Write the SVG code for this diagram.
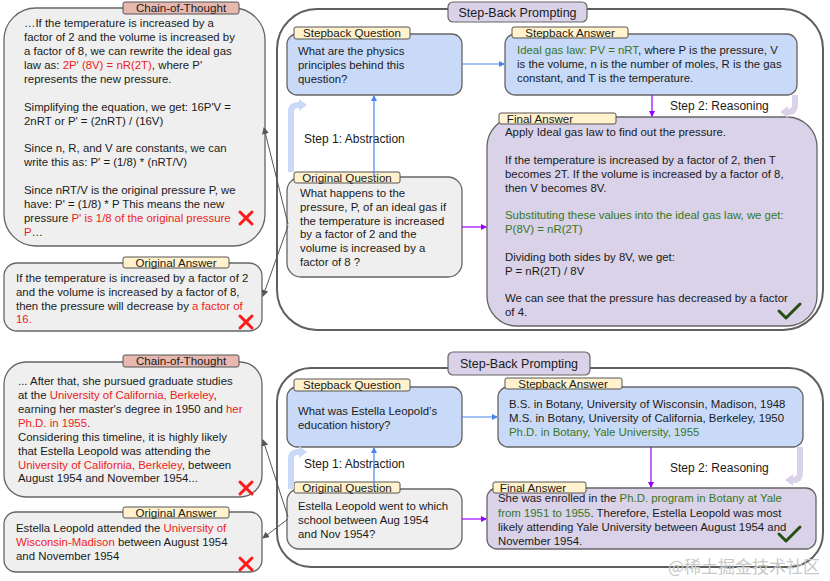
<svg xmlns="http://www.w3.org/2000/svg" width="830" height="581" viewBox="0 0 830 581">
<defs>
<style>
.t{font-family:"Liberation Sans",Arial,sans-serif;font-size:11.4px;fill:#1a1a1a}
.tag{font-family:"Liberation Sans",Arial,sans-serif;font-size:11.6px;fill:#1a1a1a;text-anchor:middle}
.lbl{font-family:"Liberation Sans",Arial,sans-serif;font-size:12px;fill:#1a1a1a}
.ttl{font-family:"Liberation Sans",Arial,sans-serif;font-size:12.5px;fill:#1a1a1a;text-anchor:middle}
.r{fill:#ee1c1c}
.g{fill:#38761d}
.gray{fill:#efefef;stroke:#666;stroke-width:1.3}
.blue{fill:#c9daf8;stroke:#666;stroke-width:1.3}
.lav{fill:#d9d2e9;stroke:#666;stroke-width:1.3}
.outer{fill:#fff;stroke:#5f5f5f;stroke-width:2}
.ytag{fill:#fff2cc;stroke:#555;stroke-width:1}
.ptag{fill:#e6b8af;stroke:#555;stroke-width:1}
.ttag{fill:#d9d2e9;stroke:#666;stroke-width:1.2}
.x{stroke:#ff1a1a;stroke-width:3;stroke-linecap:round}
.chk{fill:none;stroke:#274e13;stroke-width:3;stroke-linecap:round;stroke-linejoin:round}
.cb{stroke:#4a86e8;stroke-width:1.2;fill:none;marker-end:url(#mb)}
.cp{stroke:#9900ff;stroke-width:1.2;fill:none;marker-end:url(#mp)}
.cg{stroke:#555;stroke-width:1;fill:none;marker-end:url(#mg)}
.bendb{stroke:#c9daf8;stroke-width:6;fill:none}
.bendl{stroke:#d9d2e9;stroke-width:6;fill:none}
</style>
<marker id="mb" markerWidth="6" markerHeight="6" refX="5" refY="3" orient="auto" markerUnits="userSpaceOnUse"><path d="M0,0 L6,3 L0,6 z" fill="#4a86e8"/></marker>
<marker id="mp" markerWidth="6" markerHeight="6" refX="5" refY="3" orient="auto" markerUnits="userSpaceOnUse"><path d="M0,0 L6,3 L0,6 z" fill="#9900ff"/></marker>
<marker id="mg" markerWidth="7" markerHeight="7" refX="6" refY="3.5" orient="auto" markerUnits="userSpaceOnUse"><path d="M0,0 L7,3.5 L0,7 z" fill="#555"/></marker>
</defs>
<rect width="830" height="581" fill="#fff"/>

<!-- ===== TOP EXAMPLE ===== -->
<g id="top-stepback-frame">
<rect class="outer" x="277" y="9" width="546" height="321" rx="40"/>
<rect class="ttag" x="448" y="2" width="139" height="20" rx="5"/>
<text class="ttl" x="517.5" y="16.5">Step-Back Prompting</text>
</g>

<g id="top-cot">
<rect class="gray" x="4" y="8" width="261" height="238" rx="32"/>
<rect class="ptag" x="123" y="2" width="116" height="12" rx="2"/>
<text class="tag" x="181" y="12">Chain-of-Thought</text>
<text class="t" x="24" y="27">…If the temperature is increased by a</text>
<text class="t" x="24" y="41">factor of 2 and the volume is increased by</text>
<text class="t" x="24" y="55">a factor of 8, we can rewrite the ideal gas</text>
<text class="t" x="24" y="69">law as: <tspan class="r">2P' (8V) = nR(2T)</tspan>, where P'</text>
<text class="t" x="24" y="83">represents the new pressure.</text>
<text class="t" x="24" y="111">Simplifying the equation, we get: 16P'V =</text>
<text class="t" x="24" y="125">2nRT or P' = (2nRT) / (16V)</text>
<text class="t" x="24" y="152">Since n, R, and V are constants, we can</text>
<text class="t" x="24" y="166">write this as: P' = (1/8) * (nRT/V)</text>
<text class="t" x="24" y="194">Since nRT/V is the original pressure P, we</text>
<text class="t" x="24" y="208">have: P' = (1/8) * P This means the new</text>
<text class="t" x="24" y="222">pressure <tspan class="r">P' is 1/8 of the original pressure</tspan></text>
<text class="t" x="24" y="236"><tspan class="r">P</tspan>…</text>
<path class="x" d="M240,212 L252,224 M252,212 L240,224"/>
</g>

<g id="top-original-answer">
<rect class="gray" x="4" y="263" width="258" height="68" rx="13"/>
<rect class="ytag" x="123" y="257" width="106" height="11" rx="2"/>
<text class="tag" x="176" y="266.5">Original Answer</text>
<text class="t" x="16" y="282">If the temperature is increased by a factor of 2</text>
<text class="t" x="16" y="296">and the volume is increased by a factor of 8,</text>
<text class="t" x="16" y="310">then the pressure will decrease by <tspan class="r">a factor of</tspan></text>
<text class="t" x="16" y="323"><tspan class="r">16.</tspan></text>
<path class="x" d="M240,316 L252,328 M252,316 L240,328"/>
</g>

<g id="top-stepback-question">
<rect class="blue" x="287" y="34" width="175" height="61" rx="10"/>
<rect class="ytag" x="294" y="27" width="116" height="12" rx="2"/>
<text class="tag" x="352" y="37">Stepback Question</text>
<text class="t" x="298" y="55">What are the physics</text>
<text class="t" x="298" y="69">principles behind this</text>
<text class="t" x="298" y="83">question?</text>
</g>

<g id="top-stepback-answer">
<rect class="blue" x="505" y="34" width="292" height="61" rx="10"/>
<rect class="ytag" x="512" y="27" width="116" height="11" rx="2"/>
<text class="tag" x="570" y="36.5">Stepback Answer</text>
<text class="t" x="517" y="54"><tspan class="g">Ideal gas law: PV = nRT</tspan>, where P is the pressure, V</text>
<text class="t" x="517" y="68">is the volume, n is the number of moles, R is the gas</text>
<text class="t" x="517" y="82">constant, and T is the temperature.</text>
</g>

<g id="top-original-question">
<rect class="gray" x="287" y="177" width="175" height="100" rx="14"/>
<rect class="ytag" x="294" y="172" width="106" height="11" rx="2"/>
<text class="tag" x="347" y="181.5">Original Question</text>
<text class="t" x="300" y="197">What happens to the</text>
<text class="t" x="300" y="211">pressure, P, of an ideal gas if</text>
<text class="t" x="300" y="225">the temperature is increased</text>
<text class="t" x="300" y="238">by a factor of 2 and the</text>
<text class="t" x="300" y="252">volume is increased by a</text>
<text class="t" x="300" y="266">factor of 8 ?</text>
</g>

<g id="top-final-answer">
<rect class="lav" x="487" y="117" width="330" height="209" rx="30"/>
<rect class="ytag" x="499" y="113" width="117" height="11" rx="2"/>
<text class="tag" x="540" y="122.5">Final Answer</text>
<text class="t" x="505" y="136">Apply Ideal gas law to find out the pressure.</text>
<text class="t" x="505" y="164">If the temperature is increased by a factor of 2, then T</text>
<text class="t" x="505" y="178">becomes 2T. If the volume is increased by a factor of 8,</text>
<text class="t" x="505" y="192">then V becomes 8V.</text>
<text class="t" x="505" y="219"><tspan class="g">Substituting these values into the ideal gas law, we get:</tspan></text>
<text class="t" x="505" y="233"><tspan class="g">P(8V) = nR(2T)</tspan></text>
<text class="t" x="505" y="261">Dividing both sides by 8V, we get:</text>
<text class="t" x="505" y="275">P = nR(2T) / 8V</text>
<text class="t" x="505" y="302">We can see that the pressure has decreased by a factor</text>
<text class="t" x="505" y="316">of 4.</text>
<path class="chk" d="M779,311 L786,318 L800,304"/>
</g>

<g id="top-step-labels">
<text class="lbl" x="304" y="143">Step 1: Abstraction</text>
<text class="lbl" x="670" y="110">Step 2: Reasoning</text>
<path class="bendb" d="M291,172 V112 Q291,105 298,105 H300"/>
<path d="M299,99 L307,105 L299,111 z" fill="#c9daf8"/>
<path class="bendl" d="M795,95 V105 Q795,112 788,112 H787"/>
<path d="M788,106 L780,112 L788,118 z" fill="#d9d2e9"/>
</g>

<!-- ===== BOTTOM EXAMPLE ===== -->
<g id="bottom-stepback-frame">
<rect class="outer" x="277" y="368" width="546" height="199" rx="34"/>
<rect class="ttag" x="448" y="352" width="142" height="23" rx="5"/>
<text class="ttl" x="519" y="368">Step-Back Prompting</text>
</g>

<g id="bottom-cot">
<rect class="gray" x="4" y="362" width="258" height="135" rx="22"/>
<rect class="ptag" x="123" y="355" width="116" height="12" rx="2"/>
<text class="tag" x="181" y="365">Chain-of-Thought</text>
<text class="t" x="18" y="385">... After that, she pursued graduate studies</text>
<text class="t" x="18" y="399">at the <tspan class="r">University of California, Berkeley</tspan>,</text>
<text class="t" x="18" y="413">earning her master's degree in 1950 and <tspan class="r">her</tspan></text>
<text class="t" x="18" y="427"><tspan class="r">Ph.D. in 1955</tspan>.</text>
<text class="t" x="18" y="441">Considering this timeline, it is highly likely</text>
<text class="t" x="18" y="455">that Estella Leopold was attending the</text>
<text class="t" x="18" y="469"><tspan class="r">University of California, Berkeley</tspan>, between</text>
<text class="t" x="18" y="482">August 1954 and November 1954...</text>
<path class="x" d="M240,482 L252,494 M252,482 L240,494"/>
</g>

<g id="bottom-original-answer">
<rect class="gray" x="4" y="512" width="258" height="60" rx="12"/>
<rect class="ytag" x="123" y="507" width="106" height="11" rx="2"/>
<text class="tag" x="176" y="516.5">Original Answer</text>
<text class="t" x="16" y="532">Estella Leopold attended the <tspan class="r">University of</tspan></text>
<text class="t" x="16" y="546"><tspan class="r">Wisconsin-Madison</tspan> between August 1954</text>
<text class="t" x="16" y="560">and November 1954</text>
<path class="x" d="M240,558 L252,570 M252,558 L240,570"/>
</g>

<g id="bottom-stepback-question">
<rect class="blue" x="287" y="387" width="175" height="60" rx="10"/>
<rect class="ytag" x="294" y="379" width="116" height="12" rx="2"/>
<text class="tag" x="352" y="389">Stepback Question</text>
<text class="t" x="298" y="415">What was Estella Leopold’s</text>
<text class="t" x="298" y="429">education history?</text>
</g>

<g id="bottom-stepback-answer">
<rect class="blue" x="498" y="387" width="305" height="60" rx="10"/>
<rect class="ytag" x="505" y="378" width="117" height="11" rx="2"/>
<text class="tag" x="563" y="387.5">Stepback Answer</text>
<text class="t" x="509" y="408">B.S. in Botany, University of Wisconsin, Madison, 1948</text>
<text class="t" x="509" y="422">M.S. in Botany, University of California, Berkeley, 1950</text>
<text class="t" x="509" y="436"><tspan class="g">Ph.D. in Botany, Yale University, 1955</tspan></text>
</g>

<g id="bottom-original-question">
<rect class="gray" x="287" y="489" width="175" height="60" rx="12"/>
<rect class="ytag" x="294" y="482" width="106" height="11" rx="2"/>
<text class="tag" x="347" y="491.5">Original Question</text>
<text class="t" x="298" y="510">Estella Leopold went to which</text>
<text class="t" x="298" y="524">school between Aug 1954</text>
<text class="t" x="298" y="538">and Nov 1954?</text>
</g>

<g id="bottom-final-answer">
<rect class="lav" x="487" y="488" width="329" height="61" rx="10"/>
<rect class="ytag" x="493" y="482" width="93" height="11" rx="2"/>
<text class="tag" x="533" y="491.5">Final Answer</text>
<text class="t" x="498" y="502">She was enrolled in the <tspan class="g">Ph.D. program in Botany at Yale</tspan></text>
<text class="t" x="498" y="517"><tspan class="g">from 1951 to 1955</tspan>. Therefore, Estella Leopold was most</text>
<text class="t" x="498" y="531">likely attending Yale University between August 1954 and</text>
<text class="t" x="498" y="545">November 1954.</text>
<path class="chk" d="M779,534 L786,541 L800,527"/>
</g>

<g id="bottom-step-labels">
<text class="lbl" x="304" y="468">Step 1: Abstraction</text>
<text class="lbl" x="670" y="472">Step 2: Reasoning</text>
<path class="bendb" d="M291,489 V459 Q291,452 298,452 H300"/>
<path d="M299,446 L307,452 L299,458 z" fill="#c9daf8"/>
<path class="bendl" d="M800,447 V473 Q800,480 793,480 H792"/>
<path d="M793,474 L785,480 L793,486 z" fill="#d9d2e9"/>
</g>

<g id="connectors">
<line class="cb" x1="374" y1="177" x2="374" y2="96"/>
<line class="cb" x1="462" y1="64" x2="504" y2="64"/>
<line class="cp" x1="652" y1="95" x2="652" y2="116"/>
<line class="cp" x1="462" y1="227" x2="486" y2="227"/>
<line class="cg" x1="288" y1="224" x2="264" y2="128"/>
<line class="cg" x1="288" y1="226" x2="263" y2="296"/>
<line class="cb" x1="374" y1="489" x2="374" y2="448"/>
<line class="cb" x1="462" y1="417" x2="497" y2="417"/>
<line class="cp" x1="651" y1="447" x2="651" y2="487"/>
<line class="cp" x1="462" y1="519" x2="486" y2="519"/>
<line class="cg" x1="288" y1="517" x2="263" y2="440"/>
<line class="cg" x1="288" y1="519" x2="263" y2="538"/>
</g>

<text x="668" y="573" style="font-family:'Noto Sans CJK SC','Noto Sans',sans-serif;font-size:17px;fill:#c8c8c8">@稀土掘金技术社区</text>
</svg>
